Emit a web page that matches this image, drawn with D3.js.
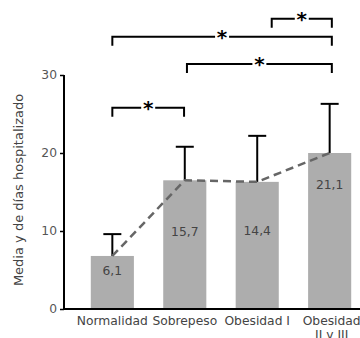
<!DOCTYPE html>
<html>
<head>
<meta charset="utf-8">
<script src="https://cdn.jsdelivr.net/npm/d3@7"></script>
<style>
  body { margin: 0; background: #fff; }
  text { font-family: "DejaVu Sans", Verdana, sans-serif; }
</style>
</head>
<body>
<div id="chart"></div>
<script>
// data
const categories = ["Normalidad", "Sobrepeso", "Obesidad I", "Obesidad II y III"];
const means = [6.8, 16.5, 16.3, 20.0];
const upper = [9.6, 20.8, 22.2, 26.3];        // top of error bar
const labels = ["6,1", "15,7", "14,4", "21,1"];
const labelAt = [4.9, 9.9, 10.1, 16.0];       // where the printed value sits
const yTicks = [0, 10, 20, 30];
// significance brackets: from/to as category index, level on the y scale
const brackets = [
  { from: 2.2, to: 3.03, level: 37.2 },
  { from: 0, to: 3.03, level: 34.9 },
  { from: 1.03, to: 3.03, level: 31.4 },
  { from: 0, to: 0.99, level: 25.8 }
];

const W = 360, H = 338;
const FS = 12.3;
const svg = d3.select("#chart").append("svg")
  .attr("width", W).attr("height", H);

const x = d3.scaleBand().domain(categories).range([76.3, 365.7]).paddingInner(0.405).paddingOuter(0.2);
const bw = x.bandwidth();
const cx = function(c) { return x(c) + bw / 2; };
const xi = d3.scaleLinear().domain([0, 3]).range([cx(categories[0]), cx(categories[3])]);
const y = d3.scaleLinear().domain([0, 30]).range([309, 75]);

// bars
svg.selectAll(".bar").data(categories).enter().append("rect")
  .attr("x", function(d) { return x(d); })
  .attr("y", function(d, i) { return y(means[i]); })
  .attr("width", bw)
  .attr("height", function(d, i) { return y(0) - y(means[i]); })
  .attr("fill", "#adadad");

// value labels
svg.selectAll(".val").data(categories).enter().append("text")
  .attr("x", function(d) { return cx(d); })
  .attr("y", function(d, i) { return y(labelAt[i]); })
  .attr("dy", "0.35em")
  .attr("text-anchor", "middle")
  .attr("font-size", FS)
  .attr("fill", "#444")
  .text(function(d, i) { return labels[i]; });

// error bars
const eb = svg.append("g").attr("stroke", "#000").attr("stroke-width", 2);
categories.forEach(function(c, i) {
  eb.append("line").attr("x1", cx(c)).attr("x2", cx(c))
    .attr("y1", y(means[i])).attr("y2", y(upper[i]));
  eb.append("line").attr("x1", cx(c) - 9).attr("x2", cx(c) + 9)
    .attr("y1", y(upper[i])).attr("y2", y(upper[i]));
});

// dashed trend line over the means
const line = d3.line()
  .x(function(d) { return cx(d); })
  .y(function(d, i) { return y(means[i]); });
svg.append("path").datum(categories)
  .attr("d", line)
  .attr("fill", "none")
  .attr("stroke", "#666")
  .attr("stroke-width", 2.5)
  .attr("stroke-dasharray", "8,5");

// axes
const yAxis = svg.append("g").attr("transform", "translate(64,0)")
  .call(d3.axisLeft(y).tickValues(yTicks).tickSize(4).tickPadding(3));
yAxis.select(".domain").attr("stroke-width", 2).attr("d", "M0," + y(30) + "V" + (y(0) + 1));
yAxis.selectAll(".tick line").attr("stroke-width", 1.5);
yAxis.selectAll(".tick text").attr("font-size", FS).attr("fill", "#555")
  .attr("font-family", "DejaVu Sans, Verdana, sans-serif");

svg.append("line").attr("x1", 63).attr("x2", W)
  .attr("y1", y(0)).attr("y2", y(0))
  .attr("stroke", "#000").attr("stroke-width", 2);

// category labels (last one wraps)
const xl = svg.append("g").attr("font-size", FS).attr("fill", "#444").attr("text-anchor", "middle");
categories.forEach(function(c) {
  const parts = c === "Obesidad II y III" ? ["Obesidad", "II y III"] : [c];
  parts.forEach(function(p, j) {
    xl.append("text").attr("x", cx(c) + (parts.length > 1 ? 2 : 0))
      .attr("y", y(0) + 16 + j * 14).text(p);
  });
});

// y title
svg.append("text")
  .attr("transform", "translate(23,190) rotate(-90)")
  .attr("text-anchor", "middle")
  .attr("font-size", 13)
  .attr("fill", "#444")
  .text("Media y de días hospitalizado");

// significance brackets
const bg = svg.append("g");
brackets.forEach(function(b) {
  const x1 = xi(b.from), x2 = xi(b.to), yy = y(b.level), mid = (x1 + x2) / 2;
  bg.append("path")
    .attr("d", "M" + x1 + "," + (yy + 9) + "V" + yy + "H" + (mid - 7) +
      "M" + (mid + 7) + "," + yy + "H" + x2 + "V" + (yy + 9))
    .attr("fill", "none").attr("stroke", "#000").attr("stroke-width", 2);
  bg.append("text").attr("x", mid).attr("y", yy + 7)
    .attr("text-anchor", "middle")
    .attr("font-size", 20).attr("font-weight", "bold")
    .text("*");
});
</script>
</body>
</html>
